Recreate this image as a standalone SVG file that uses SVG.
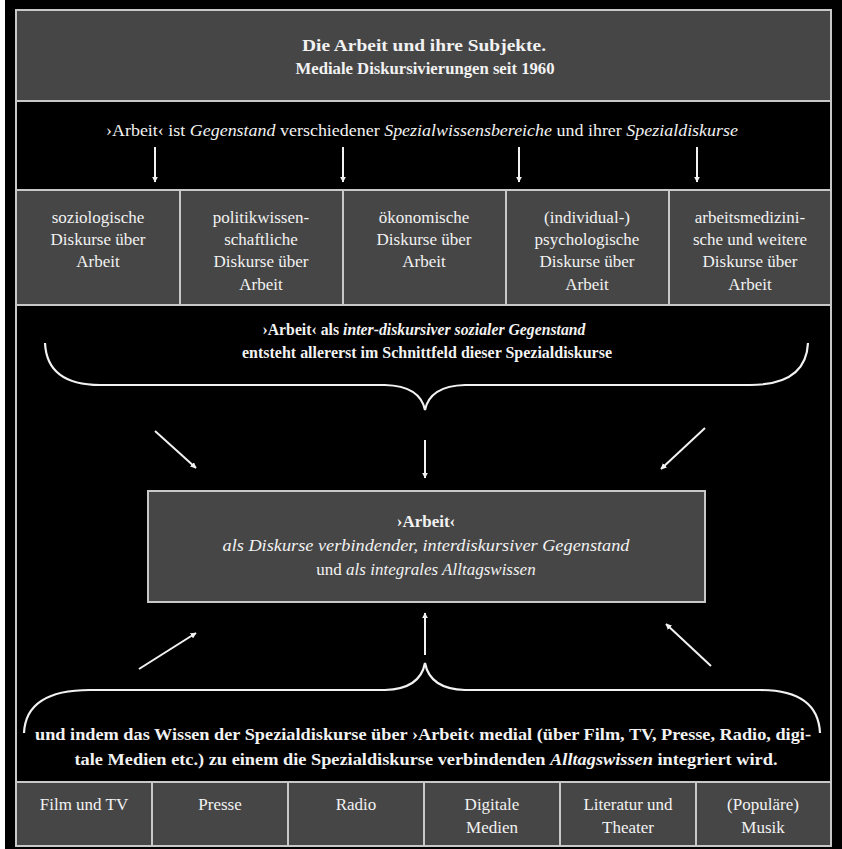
<svg xmlns="http://www.w3.org/2000/svg" width="842" height="849" viewBox="0 0 842 849">
<defs>
<style>
.box{fill:#464646;stroke:#c8c8c8;stroke-width:2}
.t{font-family:'Liberation Serif','Times New Roman','DejaVu Serif',serif;fill:#f2f2f2;text-anchor:middle;font-size:17px}
.b{font-weight:bold}
.i{font-style:italic}
.arr{stroke:#f2f2f2;stroke-width:2;fill:none;marker-end:url(#ah)}
.brace{stroke:#f2f2f2;stroke-width:2.2;fill:none}
</style>
<marker id="ah" viewBox="0 0 10 10" refX="9" refY="5" markerWidth="6" markerHeight="6" orient="auto" markerUnits="userSpaceOnUse">
<path d="M0,0 L10,5 L0,10 Z" fill="#f2f2f2"/>
</marker>
</defs>
<rect x="0" y="0" width="842" height="849" fill="#ffffff"/>
<rect x="5" y="0" width="837" height="849" fill="#000000"/>
<rect x="16" y="10" width="815" height="836" fill="#000000" stroke="#c8c8c8" stroke-width="2"/>

<g id="header">
<rect class="box" x="16" y="10" width="815" height="91"/>
<text class="t b" x="424" y="51" font-size="18" textLength="244" lengthAdjust="spacingAndGlyphs">Die Arbeit und ihre Subjekte.</text>
<text class="t b" x="425" y="74" font-size="18" textLength="259" lengthAdjust="spacingAndGlyphs">Mediale Diskursivierungen seit 1960</text>
</g>

<g id="intro">
<text class="t" x="422" y="136" font-size="16" textLength="632" lengthAdjust="spacingAndGlyphs">›Arbeit‹ ist <tspan class="i">Gegenstand</tspan> verschiedener <tspan class="i">Spezialwissensbereiche</tspan> und ihrer <tspan class="i">Spezialdiskurse</tspan></text>
</g>

<g id="spezial">
<rect class="box" x="16" y="190" width="164" height="115"/>
<rect class="box" x="180" y="190" width="163" height="115"/>
<rect class="box" x="343" y="190" width="163" height="115"/>
<rect class="box" x="506" y="190" width="163" height="115"/>
<rect class="box" x="669" y="190" width="162" height="115"/>
</g>
<g id="soz"><text class="t" x="98" y="223">soziologische</text><text class="t" x="98" y="245">Diskurse über</text><text class="t" x="98" y="267">Arbeit</text></g>
<g id="pol"><text class="t" x="261" y="223">politikwissen-</text><text class="t" x="261" y="245">schaftliche</text><text class="t" x="261" y="267">Diskurse über</text><text class="t" x="261" y="290">Arbeit</text></g>
<g id="oek"><text class="t" x="424" y="223">ökonomische</text><text class="t" x="424" y="245">Diskurse über</text><text class="t" x="424" y="267">Arbeit</text></g>
<g id="psy"><text class="t" x="587" y="223">(individual-)</text><text class="t" x="587" y="245">psychologische</text><text class="t" x="587" y="267">Diskurse über</text><text class="t" x="587" y="290">Arbeit</text></g>
<g id="med"><text class="t" x="750" y="223">arbeitsmedizini-</text><text class="t" x="750" y="245">sche und weitere</text><text class="t" x="750" y="267">Diskurse über</text><text class="t" x="750" y="290">Arbeit</text></g>

<g id="inter">
<text class="t b" x="424" y="335" textLength="323" lengthAdjust="spacingAndGlyphs">›Arbeit‹ als <tspan class="i">inter-diskursiver sozialer Gegenstand</tspan></text>
<text class="t b" x="427" y="358" textLength="370" lengthAdjust="spacingAndGlyphs">entsteht allererst im Schnittfeld dieser Spezialdiskurse</text>
</g>

<g id="center">
<rect class="box" x="148" y="491" width="557" height="111"/>
<text class="t b" x="426" y="527" font-size="16">›Arbeit‹</text>
<text class="t i" x="426" y="551" textLength="407" lengthAdjust="spacingAndGlyphs">als Diskurse verbindender, interdiskursiver Gegenstand</text>
<text class="t" x="426" y="575" font-size="16">und <tspan class="i">als integrales Alltagswissen</tspan></text>
</g>

<g id="medial">
<text class="t b" x="423" y="740" textLength="776" lengthAdjust="spacingAndGlyphs">und indem das Wissen der Spezialdiskurse über ›Arbeit‹ medial (über Film, TV, Presse, Radio, digi-</text>
<text class="t b" x="426" y="765" textLength="703" lengthAdjust="spacingAndGlyphs">tale Medien etc.) zu einem die Spezialdiskurse verbindenden <tspan class="i">Alltagswissen</tspan> integriert wird.</text>
</g>

<g id="medien">
<rect class="box" x="16" y="782" width="136" height="64"/>
<rect class="box" x="152" y="782" width="136" height="64"/>
<rect class="box" x="288" y="782" width="136" height="64"/>
<rect class="box" x="424" y="782" width="136" height="64"/>
<rect class="box" x="560" y="782" width="136" height="64"/>
<rect class="box" x="696" y="782" width="135" height="64"/>
</g>
<g id="film"><text class="t" x="84" y="810">Film und TV</text></g>
<g id="presse"><text class="t" x="220" y="810">Presse</text></g>
<g id="radio"><text class="t" x="356" y="810">Radio</text></g>
<g id="digital"><text class="t" x="492" y="810">Digitale</text><text class="t" x="492" y="833">Medien</text></g>
<g id="literatur"><text class="t" x="628" y="810">Literatur und</text><text class="t" x="628" y="833">Theater</text></g>
<g id="musik"><text class="t" x="763" y="810">(Populäre)</text><text class="t" x="763" y="833">Musik</text></g>

<g id="connectors">
<line class="arr" x1="155" y1="147" x2="155" y2="182"/>
<line class="arr" x1="343" y1="147" x2="343" y2="182"/>
<line class="arr" x1="519" y1="147" x2="519" y2="182"/>
<line class="arr" x1="697" y1="147" x2="697" y2="182"/>
<path class="brace" d="M45,343 Q47,385 100,385 L385,385 Q420,386 425,410 Q430,386 465,385 L750,385 Q806,385 808,343"/>
<path class="brace" d="M24,733 Q26,690 90,690 L385,690 Q420,689 425,663 Q430,689 465,690 L760,690 Q818,690 820,733"/>
<line class="arr" x1="155" y1="431" x2="196" y2="468"/>
<line class="arr" x1="425" y1="440" x2="425" y2="478"/>
<line class="arr" x1="705" y1="428" x2="661" y2="469"/>
<line class="arr" x1="139" y1="669" x2="196" y2="633"/>
<line class="arr" x1="425" y1="655" x2="425" y2="613"/>
<line class="arr" x1="711" y1="666" x2="666" y2="624"/>
</g>
</svg>
